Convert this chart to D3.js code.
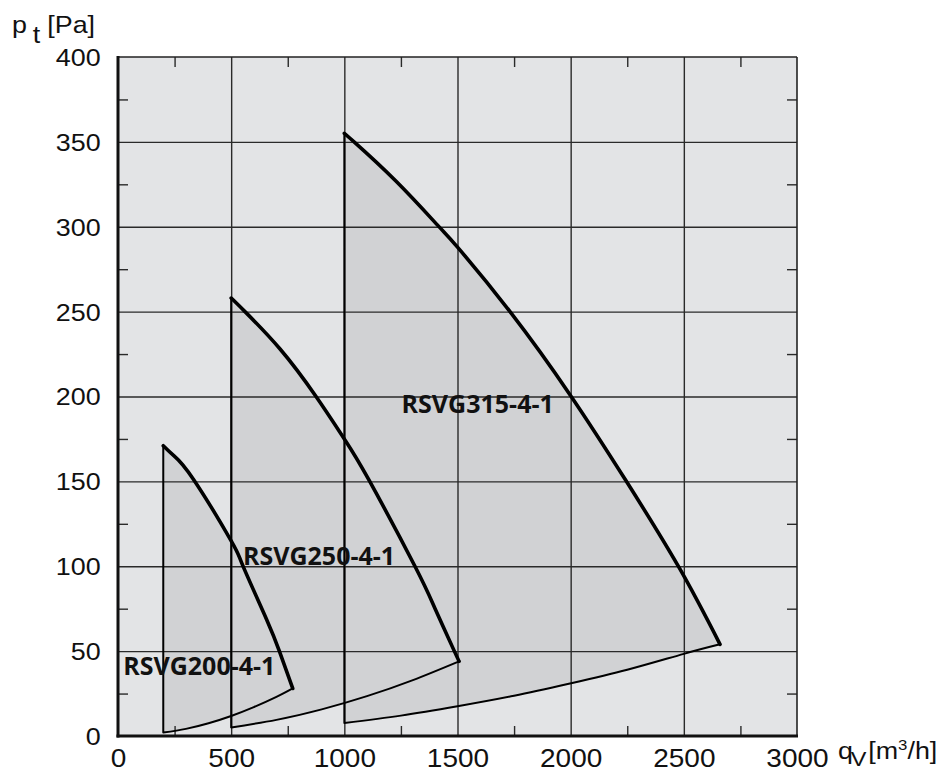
<!DOCTYPE html>
<html>
<head>
<meta charset="utf-8">
<script src="https://cdn.jsdelivr.net/npm/d3@7"></script>
<style>
  body { margin: 0; background: #fff; }
  svg { display: block; }
  .tick-label { font-family: 'Liberation Sans', Arial, sans-serif; fill: #111; }
  .fan-label { font-family: 'Open Sans', sans-serif; font-weight: 700; fill: #111; }
</style>
</head>
<body>
<svg id="chart" width="949" height="772"></svg>
<script>
// axis ticks
const xTicks = [0, 500, 1000, 1500, 2000, 2500, 3000]
const yTicks = [0, 50, 100, 150, 200, 250, 300, 350, 400]
const xMinor = [250, 750, 1250, 1750, 2250, 2750]
const yMinor = [25, 75, 125, 175, 225, 275, 325, 375]

// fan envelopes: upper (fan curve) and lower (system curve), [qV m3/h, pt Pa]
const fanNames = ['RSVG200-4-1', 'RSVG250-4-1', 'RSVG315-4-1']
const rsvg200Top = [[200, 171], [244, 165.5], [333, 151.3], [500, 115], [551, 100.5], [657, 68.5], [713, 50], [772, 28]]
const rsvg200Bottom = [[200, 2], [300, 4.2], [400, 7.5], [500, 11.8], [600, 17], [700, 23], [772, 28]]
const rsvg250Top = [[500, 258], [561, 250], [716, 228], [875, 200], [1000, 175], [1108, 151], [1312, 100], [1401, 75], [1486, 50], [1507, 44]]
const rsvg250Bottom = [[500, 5], [700, 9.5], [900, 15.7], [1100, 23.5], [1300, 32.8], [1507, 44]]
const rsvg315Top = [[1000, 355], [1043, 350], [1231, 326.5], [1415, 300.5], [1500, 288], [1732, 250], [2000, 200.5], [2244, 150.5], [2480, 99], [2660, 54]]
const rsvg315Bottom = [[1000, 7.7], [1250, 12], [1500, 17.5], [1750, 23.7], [2000, 31], [2250, 39], [2500, 48.4], [2660, 54]]
// where each name sits (data units, left/baseline)
const labelAt = [[23, 36], [552, 100.5], [1253, 190]]

const tops = [rsvg200Top, rsvg250Top, rsvg315Top]
const bottoms = [rsvg200Bottom, rsvg250Bottom, rsvg315Bottom]

const plotLeft = 118, plotRight = 797, plotTop = 57, plotBottom = 736
const stretch = 'scale(1.12,1)'

const svg = d3.select('#chart')
const x = d3.scaleLinear().domain([0, 3000]).range([plotLeft, plotRight])
const y = d3.scaleLinear().domain([0, 400]).range([plotBottom, plotTop])

svg.append('rect')
  .attr('x', plotLeft).attr('y', plotTop)
  .attr('width', plotRight - plotLeft).attr('height', plotBottom - plotTop)
  .attr('fill', '#e3e4e6')

// envelopes
const line = d3.line().x(d => x(d[0])).y(d => y(d[1])).curve(d3.curveNatural)
const outline = (i) => {
  const up = tops[i]
  const lo = bottoms[i].slice().reverse()
  const a = line(up)
  const b = line(lo).replace(/^M/, 'L')
  return `M${x(lo[lo.length - 1][0])},${y(lo[lo.length - 1][1])}L` + a.slice(1) + b + 'Z'
}
fanNames.forEach((n, i) => {
  svg.append('path').attr('d', outline(i)).attr('fill', '#d1d2d4')
})

// grid
const grid = svg.append('g')
grid.append('g')
  .attr('transform', `translate(0,${plotBottom})`)
  .call(d3.axisBottom(x).tickValues(xTicks.slice(1, -1)).tickSize(-(plotBottom - plotTop)).tickFormat(''))
grid.append('g')
  .attr('transform', `translate(${plotLeft},0)`)
  .call(d3.axisLeft(y).tickValues(yTicks.slice(1, -1)).tickSize(-(plotRight - plotLeft)).tickFormat(''))
grid.selectAll('.domain').remove()
grid.selectAll('line').attr('stroke', '#2a2a2a').attr('stroke-width', 1.4)

// minor ticks on all four sides
const minor = svg.append('g')
minor.append('g').attr('transform', `translate(0,${plotBottom})`)
  .call(d3.axisBottom(x).tickValues(xMinor).tickSize(-10).tickFormat(''))
minor.append('g').attr('transform', `translate(0,${plotTop})`)
  .call(d3.axisTop(x).tickValues(xMinor).tickSize(-10).tickFormat(''))
minor.append('g').attr('transform', `translate(${plotLeft},0)`)
  .call(d3.axisLeft(y).tickValues(yMinor).tickSize(-10).tickFormat(''))
minor.append('g').attr('transform', `translate(${plotRight},0)`)
  .call(d3.axisRight(y).tickValues(yMinor).tickSize(-10).tickFormat(''))
minor.selectAll('.domain').remove()
minor.selectAll('line').attr('stroke', '#2a2a2a').attr('stroke-width', 1.4)

// frame
svg.append('line').attr('x1', plotLeft).attr('x2', plotRight).attr('y1', plotTop).attr('y2', plotTop)
  .attr('stroke', '#222').attr('stroke-width', 1.6)
svg.append('line').attr('x1', plotRight).attr('x2', plotRight).attr('y1', plotTop).attr('y2', plotBottom)
  .attr('stroke', '#222').attr('stroke-width', 1.6)
svg.append('line').attr('x1', plotLeft).attr('x2', plotLeft).attr('y1', plotTop - 1).attr('y2', plotBottom + 1.5)
  .attr('stroke', '#111').attr('stroke-width', 3)
svg.append('line').attr('x1', plotLeft - 1.5).attr('x2', plotRight + 1).attr('y1', plotBottom).attr('y2', plotBottom)
  .attr('stroke', '#111').attr('stroke-width', 3)

// outlines
fanNames.forEach((n, i) => {
  svg.append('path').attr('d', outline(i))
    .attr('fill', 'none').attr('stroke', '#000').attr('stroke-width', 2)
    .attr('stroke-linejoin', 'round')
  svg.append('path').attr('d', line(tops[i]))
    .attr('fill', 'none').attr('stroke', '#000').attr('stroke-width', 3.6)
    .attr('stroke-linecap', 'round').attr('stroke-linejoin', 'round')
})

// tick labels
const xAxis = svg.append('g').attr('transform', `translate(0,${plotBottom})`)
  .call(d3.axisBottom(x).tickValues(xTicks).tickSize(0).tickFormat(d3.format('d')))
xAxis.select('.domain').remove()
xAxis.selectAll('text')
  .attr('class', 'tick-label').attr('font-size', 25)
  .attr('y', 31).attr('dy', null).attr('transform', stretch)
const yAxis = svg.append('g').attr('transform', `translate(${plotLeft},0)`)
  .call(d3.axisLeft(y).tickValues(yTicks).tickSize(0).tickFormat(d3.format('d')))
yAxis.select('.domain').remove()
yAxis.selectAll('text')
  .attr('class', 'tick-label').attr('font-size', 24)
  .attr('x', -15.5).attr('dy', '0.35em').attr('transform', stretch)
svg.selectAll('.tick-label').attr('fill', '#111')

// axis titles
const yTitle = svg.append('text').attr('class', 'tick-label').attr('font-size', 24)
  .attr('transform', `translate(12,33) ${stretch}`)
yTitle.append('tspan').attr('x', 0).attr('y', 0).text('p')
yTitle.append('tspan').attr('x', 18.5).attr('y', 10).text('t')
yTitle.append('tspan').attr('x', 31.5).attr('y', 0).text('[Pa]')

const xTitle = svg.append('text').attr('class', 'tick-label').attr('font-size', 24)
  .attr('transform', `translate(838,759) ${stretch}`)
xTitle.append('tspan').attr('x', 0).attr('y', 0).text('q')
xTitle.append('tspan').attr('x', 11.5).attr('y', 7).attr('font-size', 21).text('V')
xTitle.append('tspan').attr('x', 27).attr('y', 0).text('[m')
xTitle.append('tspan').attr('y', -9).attr('font-size', 15).text('3')
xTitle.append('tspan').attr('y', 0).text('/h]')

// fan names
svg.append('g').selectAll('text')
  .data(fanNames)
  .enter()
  .append('text')
  .attr('class', 'fan-label')
  .attr('font-size', 25)
  .attr('x', (d, i) => x(labelAt[i][0]))
  .attr('y', (d, i) => y(labelAt[i][1]))
  .text(d => d)
</script>
</body>
</html>
